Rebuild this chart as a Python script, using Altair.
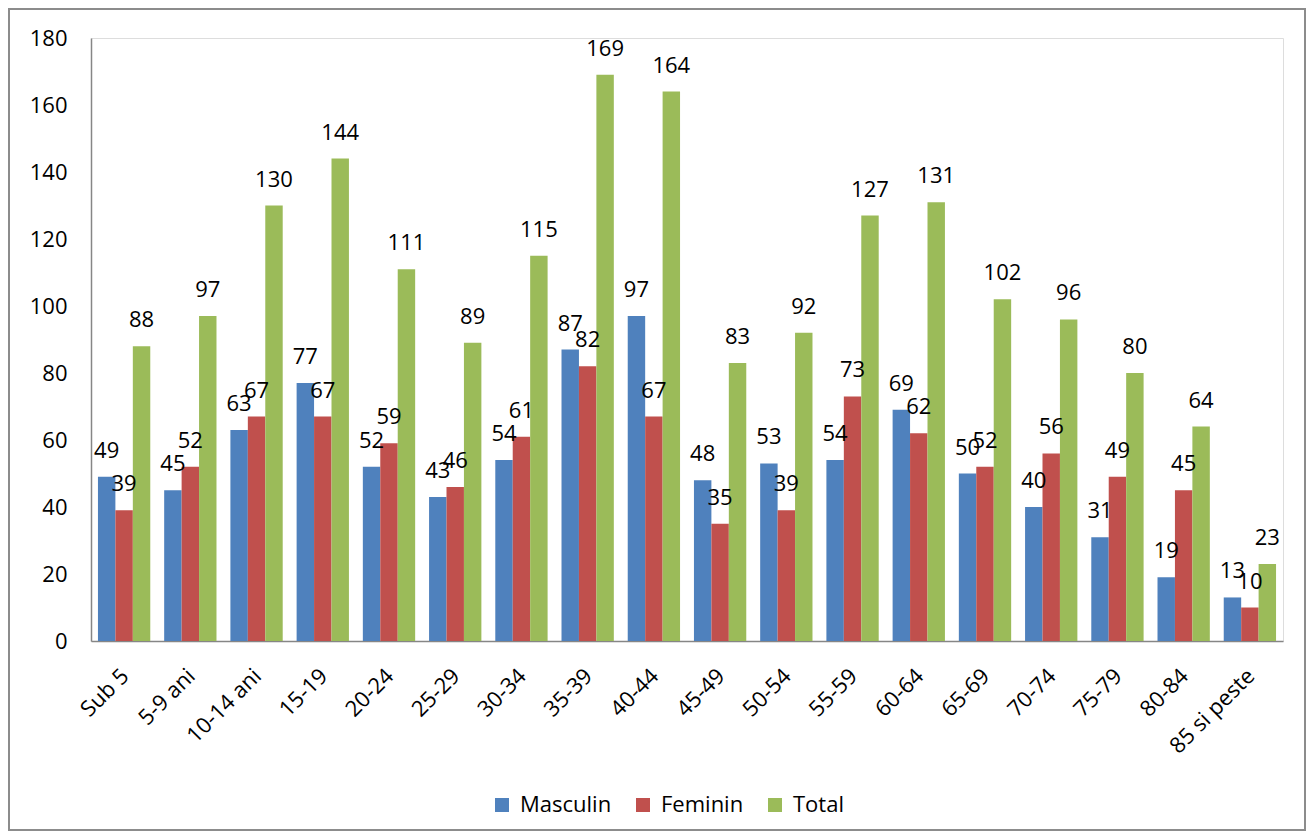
import altair as alt
import pandas as pd

categories = ["Sub 5", "5-9 ani", "10-14 ani", "15-19", "20-24", "25-29", "30-34",
              "35-39", "40-44", "45-49", "50-54", "55-59", "60-64", "65-69",
              "70-74", "75-79", "80-84", "85 si peste"]
masculin = [49, 45, 63, 77, 52, 43, 54, 87, 97, 48, 53, 54, 69, 50, 40, 31, 19, 13]
feminin = [39, 52, 67, 67, 59, 46, 61, 82, 67, 35, 39, 73, 62, 52, 56, 49, 45, 10]
total = [88, 97, 130, 144, 111, 89, 115, 169, 164, 83, 92, 127, 131, 102, 96, 80, 64, 23]
series = ["Masculin", "Feminin", "Total"]
colors = ["#4F81BD", "#C0504D", "#9BBB59"]

rows = []
for name, vals in zip(series, [masculin, feminin, total]):
    for c, v in zip(categories, vals):
        rows.append({"cat": c, "serie": name, "val": v})
df = pd.DataFrame(rows)

FONT = "Open Sans"
FS = 22
W, H = 1192, 603
PL, PT, PR, PB = 83, 30, 23, 191

x = alt.X("cat:N", sort=categories, title=None,
          scale=alt.Scale(paddingInner=0.21, paddingOuter=0.105),
          axis=alt.Axis(labelAngle=-45, labelFontSize=FS, labelFont=FONT,
                        labelColor="#000000", domainColor="#868686", domainWidth=1.5,
                        ticks=False, labelPadding=24, labelOffset=-6, labelAlign="right",
                        labelBaseline="top"))
y = alt.Y("val:Q", title=None,
          scale=alt.Scale(domain=[0, 180], nice=False),
          axis=alt.Axis(values=list(range(0, 181, 20)), grid=False, ticks=False,
                        labelFontSize=FS, labelFont=FONT, labelColor="#000000",
                        domainColor="#868686", domainWidth=1.5, labelPadding=24))
xo = alt.XOffset("serie:N", sort=series, scale=alt.Scale(paddingInner=0, paddingOuter=0))

base = alt.Chart(df)
bars = base.mark_bar().encode(
    x=x, y=y, xOffset=xo,
    color=alt.Color("serie:N", sort=series,
                    scale=alt.Scale(domain=series, range=colors),
                    legend=alt.Legend(title=None, orient="none", direction="horizontal",
                                      legendX=400, legendY=756, symbolType="square",
                                      symbolSize=196, symbolStrokeWidth=0,
                                      labelFontSize=22, labelFont=FONT,
                                      labelColor="#000000", columnPadding=20,
                                      labelOffset=7)),
)
labels = base.mark_text(fontSize=FS, font=FONT, color="#000000", dy=-19,
                        baseline="alphabetic", align="center").encode(
    x=x, y=y, xOffset=xo, text="val:Q"
)

frame = alt.Chart(pd.DataFrame({"a": [0]})).mark_rect(
    fill=None, stroke="#8C8C8C", strokeWidth=2, clip=False
).encode(
    x=alt.value(-82), x2=alt.value(1214), y=alt.value(-29), y2=alt.value(792)
)

chart = alt.layer(frame, bars, labels).properties(
    width=W, height=H,
    autosize=alt.AutoSizeParams(type="none"),
    padding={"left": PL, "top": PT, "right": PR, "bottom": PB},
).configure_view(stroke=None).configure(background="white")

chart.save("out.html", embed_options={"renderer": "svg", "actions": False})
